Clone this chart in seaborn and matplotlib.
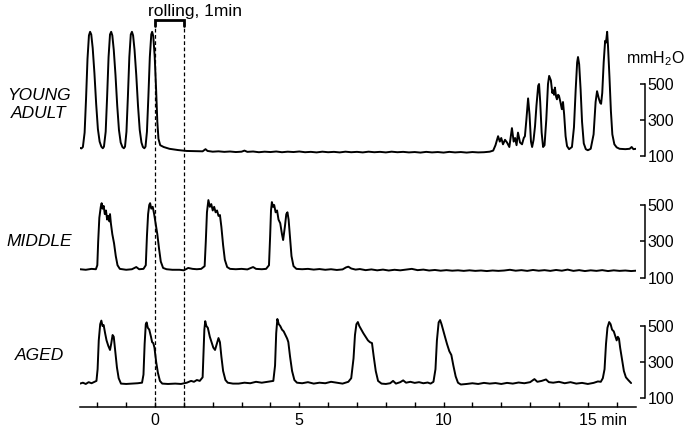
import matplotlib
matplotlib.use("Agg")
import matplotlib.pyplot as plt
import matplotlib.transforms as mtransforms
import pandas as pd
import seaborn as sns

# --- DATA: (time in min, pressure in mmH2O) ---
young_trace = [
    (-2.60, 145), (-2.55, 142),
    (-2.50, 150), (-2.44, 230), (-2.39, 420), (-2.34, 640), (-2.29, 770), (-2.25, 790),
    (-2.21, 775), (-2.16, 700), (-2.10, 560), (-2.04, 390), (-1.98, 250), (-1.92, 180),
    (-1.86, 152), (-1.81, 143),
    (-1.77, 152), (-1.71, 235), (-1.66, 430), (-1.61, 650), (-1.56, 775), (-1.52, 790),
    (-1.48, 770), (-1.43, 690), (-1.37, 550), (-1.31, 380), (-1.25, 245), (-1.19, 175),
    (-1.13, 150), (-1.08, 143),
    (-1.04, 152), (-0.99, 235), (-0.94, 430), (-0.89, 650), (-0.84, 775), (-0.80, 790),
    (-0.76, 770), (-0.71, 690), (-0.65, 550), (-0.59, 380), (-0.53, 245), (-0.47, 175),
    (-0.42, 150), (-0.37, 143),
    (-0.33, 152), (-0.28, 235), (-0.23, 430), (-0.18, 650), (-0.13, 775), (-0.10, 790),
    (-0.06, 765), (-0.01, 650), (0.04, 460), (0.08, 290), (0.12, 195), (0.18, 160),
    (0.30, 150), (0.50, 140), (0.80, 133), (1.10, 128), (1.40, 127),
    (1.65, 126), (1.75, 138), (1.82, 128), (2.0, 124), (2.2, 126), (2.4, 123), (2.6, 125),
    (2.8, 122), (3.0, 124), (3.1, 130), (3.2, 123), (3.4, 125), (3.6, 121), (3.8, 124),
    (4.0, 122), (4.2, 125), (4.4, 121), (4.6, 124), (4.8, 122), (5.0, 125), (5.2, 121),
    (5.4, 123), (5.6, 120), (5.8, 124), (6.0, 121), (6.2, 123), (6.4, 120), (6.6, 124),
    (6.8, 121), (7.0, 123), (7.2, 120), (7.4, 124), (7.6, 121), (7.8, 123), (8.0, 120),
    (8.2, 124), (8.4, 121), (8.6, 123), (8.8, 120), (9.0, 122), (9.2, 119), (9.4, 123),
    (9.6, 120), (9.8, 122), (10.0, 119), (10.2, 123), (10.4, 120), (10.6, 122), (10.8, 119),
    (11.0, 122), (11.2, 120), (11.4, 121), (11.6, 124),
    (11.72, 130), (11.80, 160), (11.89, 210), (11.95, 180), (12.00, 200), (12.06, 165),
    (12.13, 190), (12.20, 175), (12.28, 150), (12.37, 255), (12.43, 180), (12.48, 200),
    (12.53, 160), (12.58, 230), (12.65, 175), (12.72, 165), (12.78, 200), (12.82, 210),
    (12.87, 300), (12.93, 420), (12.98, 330), (13.03, 180), (13.07, 150), (13.12, 190),
    (13.17, 265), (13.22, 380), (13.28, 490), (13.31, 500), (13.35, 400), (13.40, 230),
    (13.45, 150), (13.50, 160), (13.56, 300), (13.62, 500), (13.66, 545), (13.72, 520),
    (13.77, 450), (13.80, 465), (13.83, 440), (13.86, 480), (13.90, 430), (13.93, 415),
    (13.97, 440), (14.00, 435), (14.05, 400), (14.10, 360), (14.14, 400), (14.18, 330),
    (14.23, 210), (14.28, 155), (14.35, 138), (14.45, 150), (14.52, 260), (14.58, 470),
    (14.63, 620), (14.66, 650), (14.70, 610), (14.75, 470), (14.80, 290), (14.86, 170),
    (14.93, 138), (15.00, 132), (15.10, 140), (15.20, 220), (15.27, 400), (15.32, 460),
    (15.38, 420), (15.43, 395), (15.46, 390), (15.50, 450), (15.55, 620), (15.60, 740),
    (15.63, 730), (15.67, 790), (15.70, 710), (15.75, 540), (15.80, 350), (15.85, 220),
    (15.92, 165), (16.00, 148), (16.10, 140), (16.30, 138), (16.45, 140), (16.52, 150),
    (16.58, 138), (16.67, 140),
]

middle_trace = [
    (-2.60, 148), (-2.40, 145), (-2.20, 150), (-2.05, 148),
    (-2.00, 170), (-1.97, 300), (-1.93, 430), (-1.88, 490), (-1.85, 510), (-1.82, 480),
    (-1.78, 495), (-1.74, 450), (-1.70, 470), (-1.66, 420), (-1.62, 440), (-1.58, 410),
    (-1.56, 450), (-1.53, 400), (-1.48, 340), (-1.42, 290), (-1.36, 220), (-1.30, 170),
    (-1.22, 150), (-1.00, 145), (-0.80, 148), (-0.65, 160), (-0.55, 148), (-0.40, 150),
    (-0.32, 170), (-0.28, 330), (-0.24, 450), (-0.20, 500), (-0.17, 510), (-0.13, 480),
    (-0.08, 490), (-0.03, 450), (0.02, 400), (0.08, 340), (0.14, 260), (0.20, 190),
    (0.28, 155), (0.40, 148), (0.60, 145), (0.85, 145), (1.00, 142), (1.15, 155),
    (1.30, 150), (1.45, 148), (1.60, 150), (1.72, 165),
    (1.76, 300), (1.80, 460), (1.85, 527), (1.90, 490), (1.95, 505), (2.00, 470),
    (2.05, 490), (2.10, 460), (2.15, 470), (2.20, 440), (2.25, 445), (2.30, 380),
    (2.36, 280), (2.42, 200), (2.50, 160), (2.60, 150), (2.80, 148), (3.00, 150),
    (3.20, 147), (3.40, 160), (3.50, 150), (3.70, 148), (3.85, 150), (3.95, 170),
    (3.99, 330), (4.02, 470), (4.05, 516), (4.09, 490), (4.13, 500), (4.18, 460),
    (4.23, 470), (4.28, 420), (4.34, 400), (4.40, 340), (4.44, 308), (4.50, 380),
    (4.55, 450), (4.59, 460), (4.63, 420), (4.68, 320), (4.73, 220), (4.80, 165),
    (4.90, 150), (5.1, 148), (5.3, 150), (5.5, 146), (5.7, 149), (5.9, 145), (6.1, 148),
    (6.3, 144), (6.5, 147), (6.62, 158), (6.7, 162), (6.8, 152), (6.95, 146), (7.1, 149),
    (7.3, 143), (7.5, 147), (7.7, 142), (7.9, 146), (8.1, 141), (8.3, 145), (8.5, 142),
    (8.7, 146), (8.9, 150), (9.1, 143), (9.3, 146), (9.5, 141), (9.7, 144), (9.9, 140),
    (10.1, 143), (10.3, 140), (10.5, 142), (10.7, 139), (10.9, 142), (11.1, 139),
    (11.3, 141), (11.5, 138), (11.7, 141), (11.9, 139), (12.1, 141), (12.3, 145),
    (12.5, 140), (12.7, 143), (12.9, 139), (13.1, 144), (13.3, 140), (13.5, 143),
    (13.7, 139), (13.9, 144), (14.1, 140), (14.3, 146), (14.5, 139), (14.7, 143),
    (14.9, 138), (15.1, 142), (15.3, 139), (15.5, 143), (15.7, 138), (15.9, 142),
    (16.1, 139), (16.3, 141), (16.5, 138), (16.67, 140),
]

aged_trace = [
    (-2.60, 180), (-2.50, 185), (-2.40, 178), (-2.30, 188), (-2.20, 182), (-2.10, 190),
    (-2.03, 195),
    (-1.99, 260), (-1.95, 420), (-1.90, 510), (-1.86, 530), (-1.82, 500), (-1.78, 505),
    (-1.73, 460), (-1.68, 420), (-1.62, 390), (-1.56, 367), (-1.52, 400), (-1.47, 450),
    (-1.43, 440), (-1.38, 360), (-1.32, 270), (-1.26, 210), (-1.18, 180), (-1.00, 178),
    (-0.80, 180), (-0.60, 182), (-0.45, 185),
    (-0.40, 230), (-0.36, 400), (-0.32, 510), (-0.29, 520), (-0.25, 490), (-0.20, 480),
    (-0.14, 440), (-0.10, 410), (-0.06, 405), (-0.02, 380), (0.04, 300), (0.10, 240),
    (0.17, 195), (0.25, 180), (0.45, 178), (0.70, 180), (0.90, 178), (1.10, 185),
    (1.25, 195), (1.35, 190), (1.45, 200), (1.55, 195), (1.65, 215),
    (1.68, 340), (1.71, 480), (1.74, 527), (1.78, 500), (1.83, 490), (1.90, 440),
    (1.96, 410), (2.02, 380), (2.08, 367), (2.14, 400), (2.20, 433), (2.25, 410),
    (2.30, 330), (2.36, 250), (2.44, 200), (2.52, 185), (2.70, 180), (2.90, 180),
    (3.10, 185), (3.30, 182), (3.50, 190), (3.70, 185), (3.90, 190), (4.10, 195),
    (4.16, 280), (4.20, 460), (4.24, 539), (4.29, 510), (4.34, 500), (4.40, 480),
    (4.46, 470), (4.52, 450), (4.58, 430), (4.62, 411), (4.68, 330), (4.75, 250),
    (4.83, 200), (4.92, 185), (5.10, 182), (5.30, 188), (5.50, 180), (5.70, 185),
    (5.90, 182), (6.10, 190), (6.30, 185), (6.50, 180), (6.70, 190), (6.80, 210),
    (6.88, 320), (6.93, 450), (6.98, 510), (7.03, 522), (7.08, 500), (7.15, 480),
    (7.22, 460), (7.30, 440), (7.38, 420), (7.45, 410), (7.52, 405), (7.58, 330),
    (7.65, 250), (7.73, 195), (7.85, 180), (8.00, 178), (8.15, 182), (8.25, 195),
    (8.35, 180), (8.50, 188), (8.60, 198), (8.70, 185), (8.85, 190), (9.00, 184),
    (9.15, 188), (9.30, 182), (9.45, 186), (9.55, 180), (9.65, 190),
    (9.72, 260), (9.77, 420), (9.83, 520), (9.88, 533), (9.93, 510), (9.98, 480),
    (10.05, 440), (10.12, 400), (10.20, 360), (10.27, 339), (10.34, 280), (10.42, 220),
    (10.50, 185), (10.60, 175), (10.80, 178), (11.00, 182), (11.20, 178), (11.40, 184),
    (11.60, 180), (11.80, 183), (12.00, 178), (12.20, 184), (12.40, 180), (12.60, 186),
    (12.80, 182), (13.00, 188), (13.15, 205), (13.25, 190), (13.40, 195), (13.55, 203),
    (13.65, 188), (13.80, 185), (14.00, 190), (14.20, 182), (14.40, 188), (14.60, 180),
    (14.80, 184), (15.00, 178), (15.20, 184), (15.35, 192), (15.45, 190),
    (15.52, 210), (15.58, 260), (15.63, 400), (15.68, 490), (15.74, 522), (15.79, 510),
    (15.84, 480), (15.90, 470), (15.96, 440), (16.00, 420), (16.04, 440), (16.08, 430),
    (16.12, 380), (16.18, 320), (16.25, 250), (16.32, 215), (16.40, 200), (16.50, 183),
]

group_labels = ["YOUNG\nADULT", "MIDDLE", "AGED"]
pressure_ticks = [100, 300, 500]
time_major = [0, 5, 10, 15]
time_major_labels = ["0", "5", "10", "15 min"]
time_minor = [-2, -1, 1, 2, 3, 4, 6, 7, 8, 9, 11, 12, 13, 14, 16]
rolling_window = (0, 1)
pressure_unit = "mmH$_2$O"

# --- STYLE ---
sns.set_style("white")
plt.rcParams["font.family"] = ["Liberation Sans", "DejaVu Sans"]
plt.rcParams["mathtext.default"] = "regular"
plt.rcParams["text.color"] = "black"
plt.rcParams["xtick.color"] = "black"
plt.rcParams["ytick.color"] = "black"

W, H = 686, 428
fig = plt.figure(figsize=(W / 100, H / 100), dpi=100)
XLIM = (-2.6, 16.67)
LEFT, RIGHT = 80, 636


def px_axes(top, bottom):
    return fig.add_axes([LEFT / W, 1 - bottom / H, (RIGHT - LEFT) / W, (bottom - top) / H])


# pixel extents and y-limits of the three stacked panels
panels = [
    (young_trace, 20, 165, (50, 855.6), 105),
    (middle_trace, 185, 290, (34.2, 609.6), 241),
    (aged_trace, 305, 407, (50, 616.7), 355),
]

axes = []
for (trace, top, bottom, ylim, label_y), label in zip(panels, group_labels):
    ax = px_axes(top, bottom)
    df = pd.DataFrame(trace, columns=["min", "mmH2O"])
    sns.lineplot(data=df, x="min", y="mmH2O", ax=ax, color="black", lw=1.4,
                 estimator=None, sort=False)
    ax.set_xlim(XLIM)
    ax.set_ylim(ylim)
    ax.set_xlabel("")
    ax.set_ylabel("")
    ax.patch.set_alpha(0)
    for s in ["top", "left", "bottom"]:
        ax.spines[s].set_visible(False)
    ax.spines["right"].set_position(("outward", 6.5))
    ax.spines["right"].set_bounds(100, 500)
    ax.spines["right"].set_linewidth(1.1)
    ax.spines["right"].set_color("black")
    ax.yaxis.tick_right()
    ax.set_yticks(pressure_ticks)
    ax.tick_params(axis="y", direction="in", length=3.6, width=1.1, labelsize=11.5,
                   pad=2, colors="black")
    ax.set_xticks([])
    fig.text(39 / W, 1 - label_y / H, label, ha="center", va="center",
             fontsize=12.5, style="italic", linespacing=1.25, color="black")
    axes.append(ax)

# time axis on the bottom panel
ax = axes[-1]
ax.spines["bottom"].set_visible(True)
ax.spines["bottom"].set_linewidth(1.1)
ax.spines["bottom"].set_color("black")
ax.set_xticks(time_major)
ax.set_xticklabels(time_major_labels)
ax.set_xticks(time_minor, minor=True)
ax.tick_params(axis="x", which="both", direction="in", length=3.8, width=1.0,
               labelsize=11.5, pad=4, bottom=True, colors="black")
last = ax.get_xticklabels()[-1]
last.set_horizontalalignment("left")
last.set_transform(last.get_transform() +
                   mtransforms.ScaledTranslation(-8.5 / 100, 0, fig.dpi_scale_trans))

# unit label above the top scale
fig.text(655 / W, 1 - 59 / H, pressure_unit, ha="center", va="center", fontsize=11.5,
         color="black")

# rolling window: bracket + dashed guides across all panels
ov = px_axes(20, 407)
ov.set_xlim(XLIM)
ov.set_ylim(0, 1)
ov.axis("off")
ov.patch.set_alpha(0)
r0, r1 = rolling_window
ov.vlines([r0, r1], 0, 1, colors="black", linestyles=(0, (3, 2)), lw=0.9)
ov.plot([r0, r0, r1, r1], [0.985, 1, 1, 0.985], color="black", lw=2,
        solid_joinstyle="miter", clip_on=False)
ov.annotate("rolling, 1min", xy=(-0.25, 1), xycoords=("data", "axes fraction"),
            xytext=(0, 1), textcoords="offset points", ha="left", va="bottom",
            fontsize=12.5, color="black")

plt.savefig("out.png", dpi=100)
